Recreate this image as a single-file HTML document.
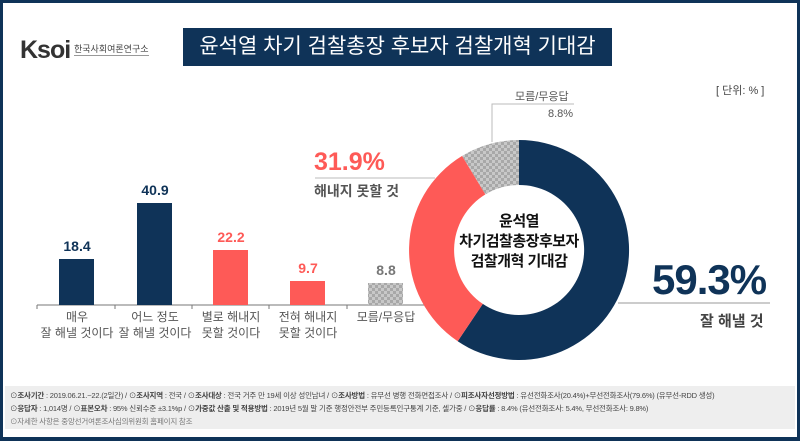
<!DOCTYPE html>
<html><head><meta charset="utf-8"><style>
*{margin:0;padding:0;box-sizing:border-box}
body{width:800px;height:441px;overflow:hidden;background:#fff;font-family:"Liberation Sans","Noto Sans CJK KR",sans-serif}
.frame{position:absolute;left:0;top:0;width:800px;height:441px;border:3px solid #0f3358;border-bottom-width:4px}
.t{position:absolute;white-space:nowrap}
</style></head><body>
<div class="frame"></div>
<div class="t" style="left:20px;top:36px;font-size:25px;font-weight:bold;color:#333;letter-spacing:-1px">Ksoi</div>
<div class="t" style="left:74px;top:42px;font-size:9px;color:#444;border-bottom:1px solid #999">한국사회여론연구소</div>
<div class="t" style="left:183px;top:28px;width:429px;height:38px;background:#0f3358;color:#fff;font-size:21px;line-height:38px;text-align:center">윤석열 차기 검찰총장 후보자 검찰개혁 기대감</div>
<div class="t" style="left:716px;top:82px;font-size:11px;color:#444">[ 단위: % ]</div>
<svg width="800" height="441" style="position:absolute;left:0;top:0">
<defs><pattern id="p" width="6" height="6" patternUnits="userSpaceOnUse"><rect width="6" height="6" fill="#c8c8c8"/><rect width="3" height="3" fill="#a8a8a8"/><rect x="3" y="3" width="3" height="3" fill="#a8a8a8"/></pattern></defs>
<line x1="37" y1="305" x2="430" y2="305" stroke="#777" stroke-width="1"/>
<g stroke="#777"><line x1="37" y1="305" x2="37" y2="309"/><line x1="115" y1="305" x2="115" y2="309"/><line x1="192" y1="305" x2="192" y2="309"/><line x1="269" y1="305" x2="269" y2="309"/><line x1="347" y1="305" x2="347" y2="309"/></g>
<rect x="59" y="259" width="35" height="46" fill="#0f3358"/>
<rect x="137" y="203" width="35" height="102" fill="#0f3358"/>
<rect x="213" y="250" width="35" height="55" fill="#fe5a57"/>
<rect x="290" y="281" width="35" height="24" fill="#fe5a57"/>
<rect x="368" y="283" width="35" height="22" fill="url(#p)"/>
<g font-family="Liberation Sans,sans-serif" font-weight="bold" font-size="14" text-anchor="middle">
<text x="77" y="251" fill="#0f3358">18.4</text>
<text x="155" y="195" fill="#0f3358">40.9</text>
<text x="231" y="242" fill="#fe5a57">22.2</text>
<text x="308" y="273" fill="#fe5a57">9.7</text>
<text x="386" y="275" fill="#777">8.8</text>
</g>
<g font-family="Liberation Sans,Noto Sans CJK KR,sans-serif" font-size="12" fill="#555" text-anchor="middle">
<text x="77" y="321">매우</text><text x="77" y="337">잘 해낼 것이다</text>
<text x="155" y="321">어느 정도</text><text x="155" y="337">잘 해낼 것이다</text>
<text x="231" y="321">별로 해내지</text><text x="231" y="337">못할 것이다</text>
<text x="308" y="321">전혀 해내지</text><text x="308" y="337">못할 것이다</text>
<text x="386" y="321">모름/무응답</text>
</g>
<!-- donut -->
<g transform="translate(519,250)">
<path d="M0,-110 A110,110 0 1,1 -61.3,91.3 L-36.2,53.9 A65,65 0 1,0 0,-65Z" fill="#0f3358"/>
<path d="M-61.3,91.3 A110,110 0 0,1 -56.9,-94.1 L-33.6,-55.6 A65,65 0 0,0 -36.2,53.9Z" fill="#fe5a57"/>
<path d="M-56.9,-94.1 A110,110 0 0,1 0,-110 L0,-65 A65,65 0 0,0 -33.6,-55.6Z" fill="url(#p)"/>
</g>
<polyline points="492,142 492,104 574,104" fill="none" stroke="#bbb"/>
<line x1="315" y1="178" x2="435" y2="178" stroke="#bbb"/>
<line x1="618" y1="303" x2="770" y2="303" stroke="#999"/>
</svg>
<div class="t" style="left:519px;top:212px;transform:translateX(-50%);text-align:center;font-size:15px;font-weight:bold;color:#111;line-height:20px;letter-spacing:-0.5px">윤석열<br>차기검찰총장후보자<br>검찰개혁 기대감</div>
<div class="t" style="left:515px;top:88px;font-size:11px;color:#555">모름/무응답</div>
<div class="t" style="left:548px;top:108px;font-size:11px;color:#555">8.8%</div>
<div class="t" style="left:314px;top:148px;font-size:25px;font-weight:bold;color:#fe5a57">31.9%</div>
<div class="t" style="left:314px;top:181px;font-size:14px;font-weight:bold;color:#555">해내지 못할 것</div>
<div class="t" style="left:652px;top:256px;font-size:42px;font-weight:bold;color:#0f3358;letter-spacing:-1px">59.3%</div>
<div class="t" style="left:700px;top:310px;font-size:15px;font-weight:bold;color:#444">잘 해낼 것</div>
<div class="t" style="left:5px;top:386px;width:790px;height:43px;background:#eeeeee"></div>
<div class="t" style="left:10px;top:389px;font-size:7.5px;color:#444;line-height:13px;letter-spacing:-0.2px">⊙<b>조사기간</b> : 2019.06.21.~22.(2일간) / ⊙<b>조사지역</b> : 전국 / ⊙<b>조사대상</b> : 전국 거주 만 19세 이상 성인남녀 / ⊙<b>조사방법</b> : 유무선 병행 전화면접조사 / ⊙<b>피조사자선정방법</b> : 유선전화조사(20.4%)+무선전화조사(79.6%) (유무선-RDD 생성)<br>⊙<b>응답자</b> : 1,014명 / ⊙<b>표본오차</b> : 95% 신뢰수준 ±3.1%p / ⊙<b>가중값 산출 및 적용방법</b> : 2019년 5월 말 기준 행정안전부 주민등록인구통계 기준, 셀가중 / ⊙<b>응답률</b> : 8.4% (유선전화조사: 5.4%, 무선전화조사: 9.8%)<br><span style="color:#777">⊙자세한 사항은 중앙선거여론조사심의위원회 홈페이지 참조</span></div>
</body></html>
